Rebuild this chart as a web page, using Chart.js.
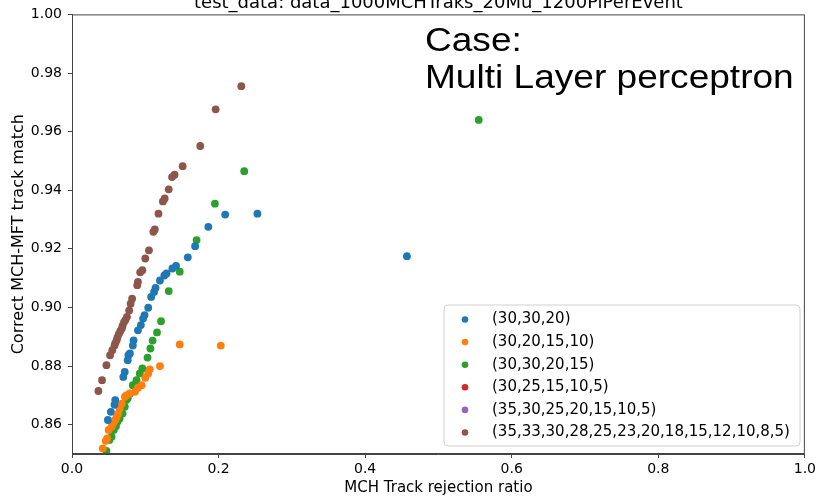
<!DOCTYPE html>
<html>
<head>
<meta charset="utf-8">
<script src="https://cdn.jsdelivr.net/npm/chart.js@4.4.1/dist/chart.umd.min.js"></script>
<style>
  html, body { margin: 0; padding: 0; background: #fff; }
  #wrap { width: 819px; height: 497px; }
</style>
</head>
<body>
<div id="wrap"><canvas id="chart" width="819" height="497"></canvas></div>
<script>
// network layouts (hidden layers)
const layouts = [
  "(30,30,20)",
  "(30,20,15,10)",
  "(30,30,20,15)",
  "(30,25,15,10,5)",
  "(35,30,25,20,15,10,5)",
  "(35,33,30,28,25,23,20,18,15,12,10,8,5)"
];
const colors = ["#1f77b4", "#ff7f0e", "#2ca02c", "#d62728", "#9467bd", "#8c564b"];

// rejection ratio (x) / correct match (y) per layout
const rej_30_30_20 = [0.253, 0.209, 0.186, 0.168, 0.158, 0.142, 0.137, 0.129, 0.126, 0.120, 0.114, 0.112, 0.108, 0.104, 0.099, 0.097, 0.094, 0.090, 0.084, 0.083, 0.079, 0.077, 0.076, 0.072, 0.070, 0.059, 0.058, 0.053, 0.049, 0.457];
const match_30_30_20 = [0.9320, 0.9317, 0.9275, 0.9209, 0.9171, 0.9142, 0.9133, 0.9116, 0.9109, 0.9092, 0.9067, 0.9053, 0.9036, 0.8999, 0.8974, 0.8962, 0.8940, 0.8922, 0.8888, 0.8870, 0.8843, 0.8837, 0.8820, 0.8780, 0.8763, 0.8684, 0.8668, 0.8644, 0.8616, 0.9175];

const rej_30_20_15_10 = [0.203, 0.147, 0.120, 0.106, 0.104, 0.100, 0.095, 0.090, 0.086, 0.079, 0.074, 0.072, 0.068, 0.065, 0.063, 0.061, 0.059, 0.056, 0.054, 0.050, 0.048, 0.046, 0.042];
const match_30_20_15_10 = [0.8870, 0.8874, 0.8800, 0.8789, 0.8775, 0.8760, 0.8735, 0.8726, 0.8712, 0.8707, 0.8700, 0.8695, 0.8672, 0.8655, 0.8638, 0.8627, 0.8616, 0.8605, 0.8593, 0.8582, 0.8553, 0.8545, 0.8519];

const rej_30_30_20_15 = [0.555, 0.235, 0.195, 0.170, 0.147, 0.132, 0.1215, 0.116, 0.110, 0.107, 0.103, 0.096, 0.0925, 0.088, 0.083, 0.079, 0.076, 0.074, 0.072, 0.069, 0.065, 0.062, 0.060, 0.057, 0.054, 0.051, 0.047];
const match_30_30_20_15 = [0.9640, 0.9465, 0.9354, 0.9230, 0.9122, 0.9056, 0.8953, 0.8915, 0.8887, 0.8860, 0.8829, 0.8792, 0.8775, 0.8752, 0.8735, 0.8706, 0.8690, 0.8684, 0.8661, 0.8638, 0.8621, 0.8610, 0.8595, 0.8582, 0.8559, 0.8548, 0.8511];

const rej_30_25_15_10_5 = [];
const match_30_25_15_10_5 = [];

const rej_35_30_25_20_15_10_5 = [];
const match_35_30_25_20_15_10_5 = [];

const rej_35_33_deep = [0.231, 0.196, 0.175, 0.151, 0.140, 0.1365, 0.132, 0.1265, 0.124, 0.118, 0.113, 0.111, 0.105, 0.100, 0.096, 0.093, 0.090, 0.089, 0.082, 0.080, 0.078, 0.075, 0.073, 0.071, 0.069, 0.068, 0.066, 0.064, 0.062, 0.061, 0.059, 0.058, 0.055, 0.052, 0.047, 0.041, 0.036];
const match_35_33_deep = [0.9755, 0.9676, 0.9551, 0.9482, 0.9453, 0.9445, 0.9403, 0.9372, 0.9362, 0.9320, 0.9266, 0.9258, 0.9195, 0.9167, 0.9127, 0.9120, 0.9087, 0.9076, 0.9030, 0.9013, 0.8990, 0.8968, 0.8958, 0.8950, 0.8938, 0.8928, 0.8920, 0.8910, 0.8898, 0.8888, 0.8878, 0.8870, 0.8854, 0.8837, 0.8803, 0.8752, 0.8715];

const xTicks = [0.0, 0.2, 0.4, 0.6, 0.8, 1.0];
const yTicks = [0.86, 0.88, 0.90, 0.92, 0.94, 0.96, 0.98, 1.00];

const titleText = "test_data: data_1000MCHTraks_20Mu_1200PiPerEvent";
const caseLines = ["Case:", "Multi Layer perceptron"];
const xTitle = "MCH Track rejection ratio";
const yTitle = "Correct MCH-MFT track match";

const seriesX = [rej_30_30_20, rej_30_20_15_10, rej_30_30_20_15, rej_30_25_15_10_5, rej_35_30_25_20_15_10_5, rej_35_33_deep];
const seriesY = [match_30_30_20, match_30_20_15_10, match_30_30_20_15, match_30_25_15_10_5, match_35_30_25_20_15_10_5, match_35_33_deep];

const FONT = "'DejaVu Sans', sans-serif";

const datasets = layouts.map((name, i) => ({
  label: name,
  data: seriesX[i].map((x, k) => ({ x: x, y: seriesY[i][k] })),
  backgroundColor: colors[i],
  borderColor: colors[i],
  borderWidth: 0,
  pointRadius: 3.9,
  pointHoverRadius: 3.9
}));

// text drawn a little wider than the font's natural width
function wideText(ctx, text, x, y, sx) {
  ctx.save();
  ctx.translate(x, y);
  ctx.scale(sx, 1);
  ctx.fillText(text, 0, 0);
  ctx.restore();
}

// frame, title, text box, axis titles and legend box
const decor = {
  id: "decor",
  afterDraw(chart) {
    const ctx = chart.ctx;
    const a = chart.chartArea;
    ctx.save();
    ctx.strokeStyle = "#444";
    ctx.lineWidth = 1;
    ctx.strokeRect(a.left + 0.5, a.top + 0.5, a.right - a.left - 1, a.bottom - a.top - 1);

    ctx.fillStyle = "#000";
    ctx.textAlign = "center";
    ctx.textBaseline = "alphabetic";
    ctx.font = "18px " + FONT;
    ctx.fillText(titleText, (a.left + a.right) / 2, 8);

    ctx.font = "15px " + FONT;
    ctx.fillText(xTitle, (a.left + a.right) / 2, 492);
    ctx.save();
    ctx.translate(23, (a.top + a.bottom) / 2);
    ctx.rotate(-Math.PI / 2);
    ctx.font = "16px " + FONT;
    ctx.fillText(yTitle, 0, 0);
    ctx.restore();

    ctx.textAlign = "left";
    ctx.font = "34px 'Liberation Sans', Arial, sans-serif";
    wideText(ctx, caseLines[0], 425, 51, 1.09);
    wideText(ctx, caseLines[1], 425, 88, 1.09);

    // legend
    const lx = 444, ly = 305, lw = 356, lh = 141, r = 4;
    ctx.beginPath();
    ctx.moveTo(lx + r, ly);
    ctx.arcTo(lx + lw, ly, lx + lw, ly + lh, r);
    ctx.arcTo(lx + lw, ly + lh, lx, ly + lh, r);
    ctx.arcTo(lx, ly + lh, lx, ly, r);
    ctx.arcTo(lx, ly, lx + lw, ly, r);
    ctx.closePath();
    ctx.fillStyle = "rgba(255,255,255,0.8)";
    ctx.fill();
    ctx.strokeStyle = "#d0d0d0";
    ctx.stroke();

    ctx.font = "15px " + FONT;
    ctx.textBaseline = "middle";
    chart.data.datasets.forEach((ds, i) => {
      const y = 319.5 + i * 22.6;
      ctx.beginPath();
      ctx.arc(465, y, 3.3, 0, Math.PI * 2);
      ctx.fillStyle = ds.backgroundColor;
      ctx.fill();
      ctx.fillStyle = "#000";
      ctx.fillText(ds.label, 492, y);
    });
    ctx.restore();
  }
};

new Chart(document.getElementById("chart"), {
  type: "scatter",
  data: { datasets: datasets },
  options: {
    responsive: false,
    animation: false,
    layout: { padding: { top: 14, right: 12, left: 0, bottom: 0 } },
    plugins: { legend: { display: false }, tooltip: { enabled: false } },
    scales: {
      x: {
        min: 0, max: 1,
        afterBuildTicks: (s) => { s.ticks = xTicks.map(v => ({ value: v })); },
        afterFit: (s) => { s.height = 43; },
        ticks: { callback: (v) => v.toFixed(1), color: "#000", font: { family: FONT, size: 14 }, padding: 3, maxRotation: 0 },
        grid: { drawOnChartArea: false, tickLength: 4, color: "#444" },
        border: { color: "#444" }
      },
      y: {
        min: 0.85, max: 1.0,
        afterBuildTicks: (s) => { s.ticks = yTicks.map(v => ({ value: v })); },
        afterFit: (s) => { s.width = 72; },
        ticks: { callback: (v) => v.toFixed(2), color: "#000", font: { family: FONT, size: 14 }, padding: 6 },
        grid: { drawOnChartArea: false, tickLength: 4, color: "#444" },
        border: { color: "#444" }
      }
    }
  },
  plugins: [decor]
});
</script>
</body>
</html>
